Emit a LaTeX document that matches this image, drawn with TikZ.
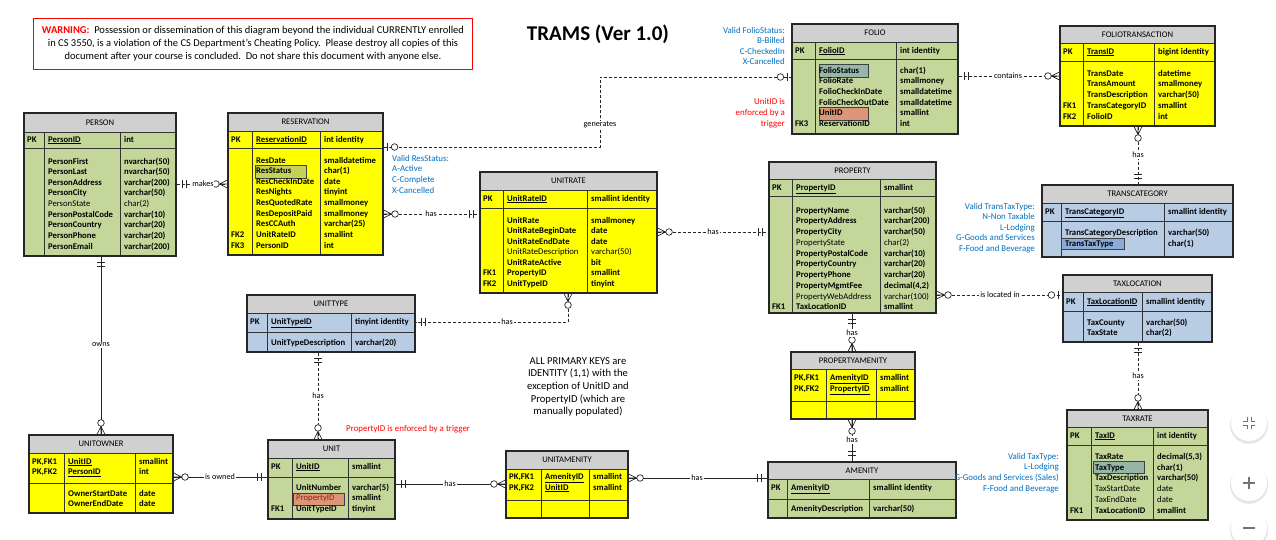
\documentclass[tikz,border=0pt]{standalone}
\usepackage{fontspec}
\setmainfont{Carlito}
\usetikzlibrary{fit}
\definecolor{tgreen}{RGB}{196,215,155}
\definecolor{tyellow}{RGB}{255,255,0}
\definecolor{tblue}{RGB}{184,204,228}
\definecolor{tgray}{RGB}{208,208,208}
\definecolor{nblue}{RGB}{0,112,192}
\definecolor{hlres}{RGB}{196,210,90}
\definecolor{hlteal}{RGB}{150,182,170}
\definecolor{hlblue}{RGB}{140,172,214}
\definecolor{hlsalmon}{RGB}{218,150,118}
\definecolor{propred}{RGB}{160,30,20}

\newcommand\txtlines[6]{\foreach \s [count=\i] in {#6} {\node[#1] (#2-\i) at ({#3},{#4+(\i-1)*#5}) {\s};}}
\newcommand\ertable[9]{\def\tN{#1}\def\tF{#2}\def\tT{#3}\def\tXa{#4}\def\tYa{#5}\def\tXb{#6}\def\tYb{#7}\def\tYt{#8}\def\tYp{#9}\ertableB}
\newcommand\ertableB[2]{%
  \def\tCa{#1}\def\tCb{#2}%
  \fill[\tF] (\tXa,\tYt) rectangle (\tXb,\tYb);
  \fill[tgray] (\tXa,\tYa) rectangle (\tXb,\tYt);
  \draw[grid] (\tXa,\tYt) -- (\tXb,\tYt) (\tXa,\tYp) -- (\tXb,\tYp) (\tCa,\tYt) -- (\tCa,\tYb) (\tCb,\tYt) -- (\tCb,\tYb);
  \node[tframe, fit={(\tXa,\tYa) (\tXb,\tYb)}] (\tN) {};
  \node[ttitle] (\tN-title) at ({(\tXa+\tXb)/2},{(\tYa+\tYt)/2}) {\tT};
}
\newcommand\erpk[4]{%
  \node[cell] (\tN-pk) at ({\tXa+3},#1) {#2};
  \node[cell] (\tN-pkn) at ({\tCa+4},#1) {\underline{#3}};
  \node[cell] (\tN-pkt) at ({\tCb+4},#1) {#4};}
\newcommand\erfields[4]{\txtlines{cell}{\tN-f}{\tCa+4}{#1}{#2}{#3}\txtlines{cell}{\tN-t}{\tCb+4}{#1}{#2}{#4}}
\newcommand\erkeys[3]{\txtlines{cell}{\tN-k}{\tXa+3}{#1}{#2}{#3}}
\newcommand\ermark[3]{\begin{scope}[shift={#2},rotate=#3]\csname erm#1\endcsname\end{scope}}
\newcommand\ermZM{\draw[mk] (0,4) -- (8,0) -- (0,-4) (0,0) -- (8,0); \draw[mk,fill=white] (11.5,0) circle (3.3pt);}
\newcommand\ermZO{\draw[mk] (4,4) -- (4,-4); \draw[mk,fill=white] (11,0) circle (3.3pt);}
\newcommand\ermOO{\draw[mk] (6,4) -- (6,-4) (10,4) -- (10,-4);}

\begin{document}
\begin{tikzpicture}[x=1pt,y=-1pt,
  grid/.style={draw=black!80, line width=0.7pt},
  tframe/.style={draw=black!85, line width=1.1pt, inner sep=0pt},
  ttitle/.style={font=\fontsize{8.6}{10}\selectfont, inner sep=0pt},
  cell/.style={anchor=west, inner sep=0pt, text height=6.2pt, text depth=1.8pt, font=\fontsize{8.7}{10}\selectfont\bfseries},
  rel/.style={line width=0.7pt, draw=black!85},
  reld/.style={rel, dash pattern=on 3pt off 2pt},
  mk/.style={line width=0.7pt, draw=black!85, solid},
  lbl/.style={fill=white, inner sep=0.8pt, font=\fontsize{8.2}{9}\selectfont},
  note/.style={text=nblue, inner sep=0pt, text height=6pt, text depth=1.8pt, font=\fontsize{8.9}{10}\selectfont},
  hl/.style={draw=black!75, line width=0.9pt}]
\useasboundingbox (0,0) rectangle (1276,540);
\fill[white] (0,0) rectangle (1276,540);

% ---------- warning and title
\node[draw=red, line width=0.9pt, fit={(33.5,18) (472,69)}, inner sep=0pt] (warnbox) {};
\txtlines{inner sep=0pt, font=\fontsize{10.5}{12}\selectfont}{warn}{253}{31}{13}{{\textcolor{red}{\textbf{WARNING:}}\ \ Possession or dissemination of this diagram beyond the individual CURRENTLY enrolled},{in CS 3550, is a violation of the CS Department’s Cheating Policy.\ \ Please destroy all copies of this},{document after your course is concluded.\ \ Do not share this document with anyone else.}}
\node[inner sep=0pt, font=\fontsize{21}{24}\selectfont\bfseries] (title) at (598,34) {TRAMS (Ver 1.0)};

% ---------- PERSON
\ertable{person}{tgreen}{PERSON}{24}{113}{176}{256}{132}{148}{44}{120}
\erpk{140}{PK}{PersonID}{int}
\erfields{162}{10.6}{PersonFirst,PersonLast,PersonAddress,PersonCity,{\mdseries PersonState},PersonPostalCode,PersonCountry,PersonPhone,PersonEmail}{nvarchar(50),nvarchar(50),varchar(200),varchar(50),{\mdseries char(2)},varchar(10),varchar(20),varchar(20),varchar(200)}

% ---------- RESERVATION
\ertable{reservation}{tyellow}{RESERVATION}{228}{113}{383}{255}{131}{148}{252}{320}
\draw[hl, fill=hlres] (255,165) rectangle (306,178);
\erpk{140}{PK}{ReservationID}{int identity}
\erfields{161}{10.6}{ResDate,ResStatus,ResCheckInDate,ResNights,ResQuotedRate,ResDepositPaid,ResCCAuth,UnitRateID,PersonID}{smalldatetime,char(1),date,tinyint,smallmoney,smallmoney,varchar(25),smallint,int}
\erkeys{235.2}{10.6}{FK2,FK3}

% ---------- UNITRATE
\ertable{unitrate}{tyellow}{UNITRATE}{480}{172}{657}{293}{190}{208}{503}{587}
\erpk{199}{PK}{UnitRateID}{smallint identity}
\erfields{221}{10.5}{UnitRate,UnitRateBeginDate,UnitRateEndDate,{\mdseries UnitRateDescription},UnitRateActive,PropertyID,UnitTypeID}{smallmoney,date,date,{\mdseries varchar(50)},bit,smallint,tinyint}
\erkeys{273.5}{10.5}{FK1,FK2}

% ---------- FOLIO
\ertable{folio}{tgreen}{FOLIO}{792}{24}{958}{134}{42}{59}{815}{896}
\draw[hl, fill=hlteal] (819,64) rectangle (868,77);
\draw[hl, fill=hlsalmon] (819,107.5) rectangle (868,120);
\erpk{51}{PK}{FolioID}{int identity}
\erfields{71}{10.7}{FolioStatus,FolioRate,FolioCheckInDate,FolioCheckOutDate,UnitID,ReservationID}{char(1),smallmoney,smalldatetime,smalldatetime,smallint,int}
\erkeys{124.5}{10}{FK3}

% ---------- FOLIOTRANSACTION
\ertable{foliotrans}{tyellow}{FOLIOTRANSACTION}{1060}{26}{1215}{126}{43}{61}{1083}{1154}
\erpk{52}{PK}{TransID}{bigint identity}
\erfields{74}{10.75}{TransDate,TransAmount,TransDescription,TransCategoryID,FolioID}{datetime,smallmoney,varchar(50),smallint,int}
\erkeys{106.25}{10.75}{FK1,FK2}

% ---------- TRANSCATEGORY
\ertable{transcat}{tblue}{TRANSCATEGORY}{1042}{185}{1233}{257}{203}{221}{1061}{1164}
\draw[hl, fill=hlblue] (1061,238) rectangle (1124,249.5);
\erpk{212}{PK}{TransCategoryID}{smallint identity}
\erfields{233}{11}{TransCategoryDescription,TransTaxType}{varchar(50),char(1)}

% ---------- PROPERTY
\ertable{property}{tgreen}{PROPERTY}{769}{162}{936}{313}{179}{196}{792}{880}
\erpk{188}{PK}{PropertyID}{smallint}
\erfields{211}{10.75}{PropertyName,PropertyAddress,PropertyCity,{\mdseries PropertyState},PropertyPostalCode,PropertyCountry,PropertyPhone,PropertyMgmtFee,{\mdseries PropertyWebAddress},TaxLocationID}{varchar(50),varchar(200),varchar(50),{\mdseries char(2)},varchar(10),varchar(20),varchar(20),{decimal(4,2)},{\mdseries varchar(100)},smallint}
\erkeys{307.75}{10}{FK1}

% ---------- TAXLOCATION
\ertable{taxloc}{tblue}{TAXLOCATION}{1063}{275}{1212}{342}{292}{311}{1083}{1142}
\erpk{302}{PK}{TaxLocationID}{smallint identity}
\erfields{323}{10.5}{TaxCounty,TaxState}{varchar(50),char(2)}

% ---------- TAXRATE
\ertable{taxrate}{tgreen}{TAXRATE}{1067}{410}{1208}{520}{427}{445}{1091}{1153}
\draw[hl, fill=hlteal] (1093,461) rectangle (1144,473);
\erpk{436}{PK}{TaxID}{int identity}
\erfields{457}{10.8}{TaxRate,TaxType,TaxDescription,{\mdseries TaxStartDate},{\mdseries TaxEndDate},TaxLocationID}{{decimal(5,3)},char(1),varchar(50),{\mdseries date},{\mdseries date},smallint}
\erkeys{511}{10}{FK1}

% ---------- UNITTYPE
\ertable{unittype}{tblue}{UNITTYPE}{247}{295}{415}{352}{313}{332}{267}{351}
\erpk{322}{PK}{UnitTypeID}{tinyint identity}
\erfields{343}{10}{UnitTypeDescription}{varchar(20)}

% ---------- UNIT
\ertable{unit}{tgreen}{UNIT}{268}{440}{395}{519}{458}{477}{292}{348}
\draw[hl, fill=hlsalmon] (293,493) rectangle (344,505);
\erpk{467}{PK}{UnitID}{smallint}
\erfields{488}{10.5}{UnitNumber,{\color{propred}\mdseries PropertyID},UnitTypeID}{varchar(5),smallint,tinyint}
\erkeys{509}{10}{FK1}

% ---------- UNITOWNER
\ertable{unitowner}{tyellow}{UNITOWNER}{29}{435}{173}{513}{453}{483}{64}{135}
\erkeys{462}{10.5}{{PK,FK1},{PK,FK2}}
\erfields{462}{10.5}{\underline{UnitID},\underline{PersonID}}{smallint,int}
\txtlines{cell}{unitowner-g}{68}{494}{10.5}{OwnerStartDate,OwnerEndDate}
\txtlines{cell}{unitowner-h}{139}{494}{10.5}{date,date}

% ---------- UNITAMENITY
\ertable{unitamenity}{tyellow}{UNITAMENITY}{506}{451}{628}{518}{469}{500}{541}{589}
\erkeys{477}{11}{{PK,FK1},{PK,FK2}}
\erfields{477}{11}{\underline{AmenityID},\underline{UnitID}}{smallint,smallint}

% ---------- PROPERTYAMENITY
\ertable{propamenity}{tyellow}{PROPERTYAMENITY}{791}{352}{915}{419}{369}{401}{826}{876}
\erkeys{378}{11}{{PK,FK1},{PK,FK2}}
\erfields{378}{11}{\underline{AmenityID},\underline{PropertyID}}{smallint,smallint}

% ---------- AMENITY
\ertable{amenity}{tgreen}{AMENITY}{768}{462}{956}{518}{479}{499}{787}{869}
\erpk{488}{PK}{AmenityID}{smallint identity}
\erfields{509}{10}{AmenityDescription}{varchar(50)}

% ---------- connectors
\coordinate (genbend) at (600,77);
\draw[reld] (person.east |- 0,184) -- (reservation.west |- 0,184);
\draw[reld] (reservation.east |- 0,147) -| (genbend) -- (folio.west |- 0,77);
\draw[reld] (reservation.east |- 0,214) -- (unitrate.west |- 0,214);
\draw[reld] (unitrate.east |- 0,232) -- (property.west |- 0,232);
\draw[reld] (unitrate.south -| 568,0) |- (unittype.east |- 0,322);
\draw[reld] (unittype.south -| 318,0) -- (unit.north -| 318,0);
\draw[rel] (person.south -| 101,0) -- (unitowner.north -| 101,0);
\draw[rel] (unitowner.east |- 0,477) -- (unit.west |- 0,477);
\draw[rel] (unit.east |- 0,484) -- (unitamenity.west |- 0,484);
\draw[rel] (unitamenity.east |- 0,478) -- (amenity.west |- 0,478);
\draw[rel] (property.south -| 852,0) -- (propamenity.north -| 852,0);
\draw[rel] (propamenity.south -| 852,0) -- (amenity.north -| 852,0);
\draw[reld] (property.east |- 0,295) -- (taxloc.west |- 0,295);
\draw[reld] (taxloc.south -| 1138,0) -- (taxrate.north -| 1138,0);
\draw[reld] (folio.east |- 0,76) -- (foliotrans.west |- 0,76);
\draw[reld] (foliotrans.south -| 1138,0) -- (transcat.north -| 1138,0);

% ---------- end markers
\ermark{OO}{(person.east |- 0,184)}{0}
\ermark{ZM}{(reservation.west |- 0,184)}{180}
\ermark{ZO}{(reservation.east |- 0,147)}{0}
\ermark{ZO}{(folio.west |- 0,77)}{180}
\ermark{ZM}{(reservation.east |- 0,214)}{0}
\ermark{OO}{(unitrate.west |- 0,214)}{180}
\ermark{ZM}{(unitrate.east |- 0,232)}{0}
\ermark{OO}{(property.west |- 0,232)}{180}
\ermark{ZM}{(unitrate.south -| 568,0)}{-90}
\ermark{OO}{(unittype.east |- 0,322)}{0}
\ermark{OO}{(unittype.south -| 318,0)}{-90}
\ermark{ZM}{(unit.north -| 318,0)}{90}
\ermark{OO}{(person.south -| 101,0)}{-90}
\ermark{ZM}{(unitowner.north -| 101,0)}{90}
\ermark{ZM}{(unitowner.east |- 0,477)}{0}
\ermark{OO}{(unit.west |- 0,477)}{180}
\ermark{OO}{(unit.east |- 0,484)}{0}
\ermark{ZM}{(unitamenity.west |- 0,484)}{180}
\ermark{ZM}{(unitamenity.east |- 0,478)}{0}
\ermark{OO}{(amenity.west |- 0,478)}{180}
\ermark{OO}{(property.south -| 852,0)}{-90}
\ermark{ZM}{(propamenity.north -| 852,0)}{90}
\ermark{ZM}{(propamenity.south -| 852,0)}{-90}
\ermark{OO}{(amenity.north -| 852,0)}{90}
\ermark{ZM}{(property.east |- 0,295)}{0}
\ermark{ZO}{(taxloc.west |- 0,295)}{180}
\ermark{OO}{(taxloc.south -| 1138,0)}{-90}
\ermark{ZM}{(taxrate.north -| 1138,0)}{90}
\ermark{OO}{(folio.east |- 0,76)}{0}
\ermark{ZM}{(foliotrans.west |- 0,76)}{180}
\ermark{ZM}{(foliotrans.south -| 1138,0)}{-90}
\ermark{OO}{(transcat.north -| 1138,0)}{90}

% ---------- connector labels
\node[lbl] (l-makes) at (203,184) {makes};
\node[lbl] (l-generates) at (600,125) {generates};
\node[lbl] (l-has1) at (431,214) {has};
\node[lbl] (l-has2) at (713,232) {has};
\node[lbl] (l-has3) at (507,322) {has};
\node[lbl] (l-has4) at (318,396) {has};
\node[lbl] (l-owns) at (101,345) {owns};
\node[lbl] (l-isowned) at (220,477) {is owned};
\node[lbl] (l-has5) at (450,484) {has};
\node[lbl] (l-has6) at (697,478) {has};
\node[lbl] (l-has7) at (852,333) {has};
\node[lbl] (l-has8) at (852,440) {has};
\node[lbl] (l-located) at (1000,295) {is located in};
\node[lbl] (l-has9) at (1138,376) {has};
\node[lbl] (l-contains) at (1008,76) {contains};
\node[lbl] (l-has10) at (1138,155) {has};

% ---------- notes
\txtlines{note,anchor=west}{n-res}{392}{159}{10.7}{Valid ResStatus:,A-Active,C-Complete,X-Cancelled}
\txtlines{note,anchor=east}{n-folio}{785}{31}{10.5}{Valid FolioStatus:,B-Billed,C-CheckedIn,X-Cancelled}
\txtlines{note,anchor=east,text=red}{n-unitid}{785}{102}{11}{UnitID is,enforced by a,trigger}
\txtlines{note,anchor=east}{n-trans}{1035}{207}{10.6}{Valid TransTaxType:,N-Non Taxable,L-Lodging,G-Goods and Services,F-Food and Beverage}
\txtlines{note,anchor=east}{n-tax}{1059}{457}{10.7}{Valid TaxType:,L-Lodging,G-Goods and Services (Sales),F-Food and Beverage}
\node[note,anchor=west,text=red] (n-propid) at (346,429) {PropertyID is enforced by a trigger};
\txtlines{inner sep=0pt, font=\fontsize{10.6}{12}\selectfont}{n-pk}{578}{361}{12.7}{ALL PRIMARY KEYS are,{IDENTITY (1,1) with the},exception of UnitID and,PropertyID (which are,manually populated)}

% ---------- viewer buttons
\foreach \cy in {423,483,528} {
  \fill[black!10] (1249,\cy+1.8) circle (19pt);
  \fill[white] (1249,\cy) circle (18pt);
}
\draw[black!55, line width=1pt] (1243,421) -- (1247,421) -- (1247,417)
  (1255,421) -- (1251,421) -- (1251,417)
  (1243,425) -- (1247,425) -- (1247,429)
  (1255,425) -- (1251,425) -- (1251,429);
\draw[black!55, line width=1.2pt] (1243,483) -- (1255,483) (1249,477) -- (1249,489);
\draw[black!55, line width=1.2pt] (1243,528) -- (1255,528);
\end{tikzpicture}
\end{document}
